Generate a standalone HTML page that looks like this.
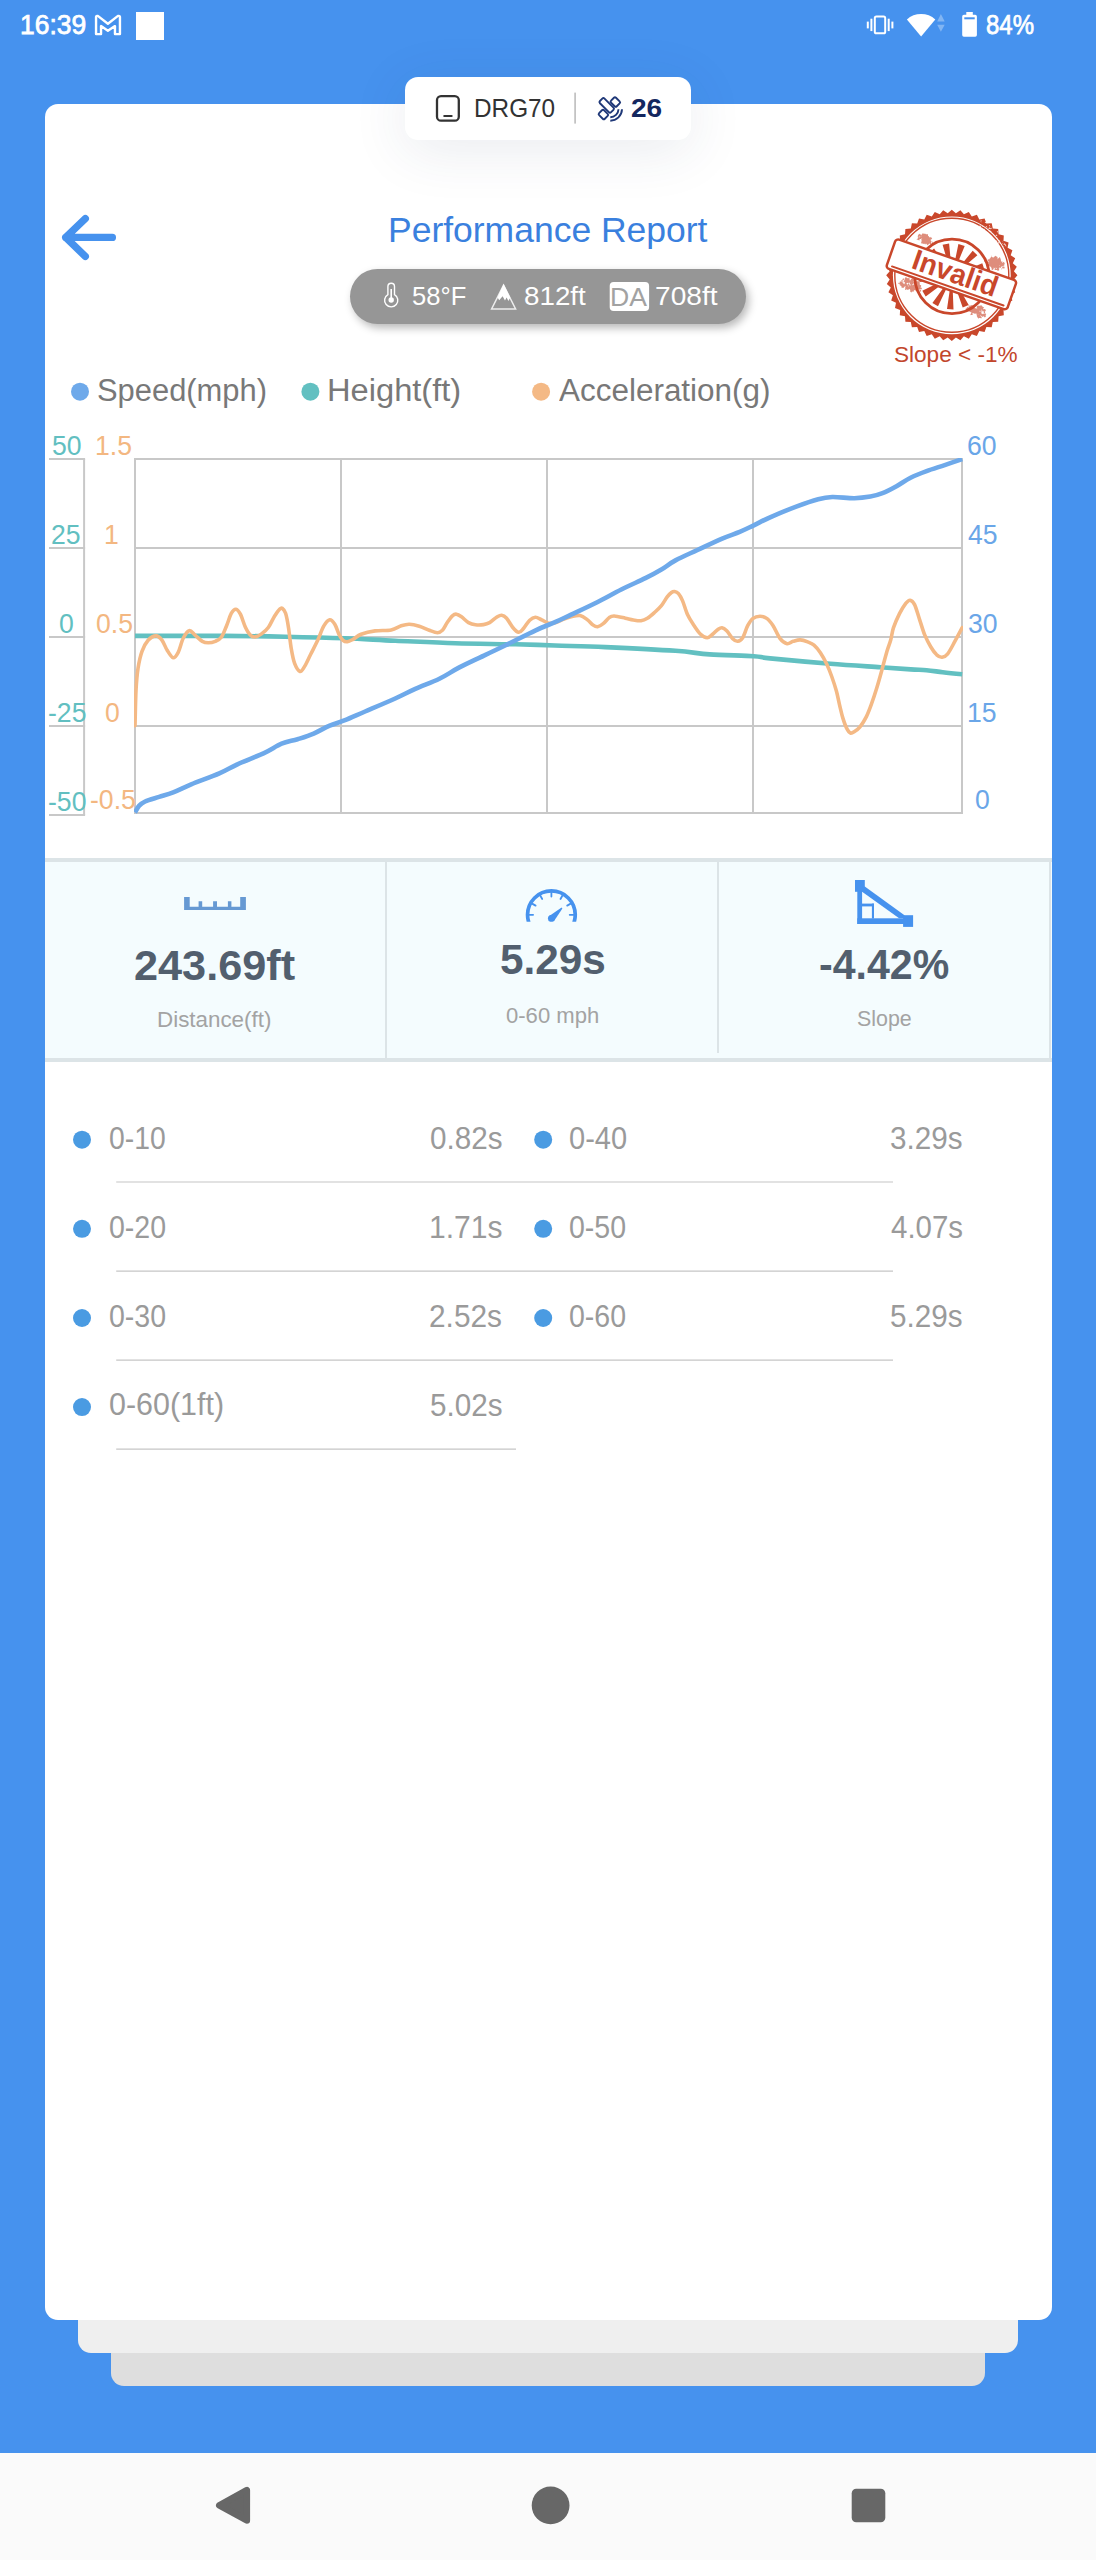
<!DOCTYPE html>
<html lang="en"><head><meta charset="utf-8"><title>Performance Report</title>
<style>
*{margin:0;padding:0;box-sizing:border-box}
html,body{width:1096px;height:2560px;overflow:hidden}
body{position:relative;background:#4692ee;font-family:"Liberation Sans",sans-serif}
.abs{position:absolute}
.t{position:absolute;white-space:nowrap;line-height:1;transform-origin:0 0;display:block}
.card{left:45px;top:104px;width:1007px;height:2216px;background:#fff;border-radius:13px}
.c2{left:78px;top:2300px;width:940px;height:53px;background:#efefef;border-radius:0 0 13px 13px}
.c3{left:111px;top:2330px;width:874px;height:56px;background:#dedede;border-radius:0 0 13px 13px}
.nav{left:0;top:2453px;width:1096px;height:107px;background:#fafafa}
.pill{left:405px;top:77px;width:286px;height:63px;background:#fff;border-radius:13px;box-shadow:0 10px 56px rgba(40,60,100,.10)}
.env{left:350px;top:269px;width:396px;height:55px;background:#969696;border-radius:28px;box-shadow:3px 4px 8px rgba(0,0,0,.28)}
.stats{left:45px;top:858px;width:1007px;height:204px;background:#f4fcfe;border-top:4px solid #dce4e7;border-bottom:4px solid #dce4e7}
.vd{background:#dce4e7;width:2px}
</style></head>
<body>
<div class="abs c3"></div><div class="abs c2"></div><div class="abs card"></div>
<div class="abs nav"></div>
<svg class="abs" style="left:0;top:2453px" width="1096" height="107" viewBox="0 2453 1096 107"><g fill="#676767"><path d="M219.3,2505.3L246.8,2490.2V2520.4Z" stroke="#676767" stroke-width="6.6" stroke-linejoin="round"/><circle cx="550.6" cy="2505.4" r="18.9"/><rect x="851.7" y="2488.7" width="33.6" height="33.6" rx="4.5"/></g></svg>
<div class="abs pill"></div>
<div class="abs env"></div>
<div class="abs stats"></div>
<div class="abs vd" style="left:385px;top:862px;height:196px"></div>
<div class="abs vd" style="left:717px;top:862px;height:191px"></div>
<div class="abs vd" style="left:1049px;top:862px;height:196px"></div>
<svg class="abs" style="left:45px;top:375px" width="1007" height="34" viewBox="45 375 1007 34"><circle cx="80.0" cy="391.7" r="9" fill="#6ea9ea"/><circle cx="310.4" cy="391.7" r="9" fill="#62c0c1"/><circle cx="541.1" cy="391.7" r="9" fill="#f4b985"/></svg>
<svg class="abs" style="left:45px;top:1120px" width="1007" height="300" viewBox="45 1120 1007 300"><g fill="#4a9be2"><circle cx="82" cy="1139.7" r="9"/><circle cx="543.2" cy="1139.7" r="9"/><circle cx="82" cy="1228.8" r="9"/><circle cx="543.2" cy="1228.8" r="9"/><circle cx="82" cy="1318" r="9"/><circle cx="543.2" cy="1318" r="9"/><circle cx="82" cy="1407.1" r="9"/></g></svg>
<svg class="abs" style="left:0;top:1170px" width="1096" height="300" viewBox="0 1170 1096 300"><g stroke="#c6c6c6" stroke-width="1.2"><path d="M116.2,1182H893"/><path d="M116.2,1271.1H893"/><path d="M116.2,1360.1H893"/><path d="M116.2,1449.1H516"/></g></svg>
<svg class="abs" style="left:0;top:420px" width="1096" height="420" viewBox="0 420 1096 420">
<g stroke="#c8c8c8" stroke-width="2" fill="none"><path d="M134,459.0H963"/><path d="M134,548.05H963"/><path d="M134,637.05H963"/><path d="M134,726.05H963"/><path d="M134,812.9H963"/><path d="M135,459.0V812.9"/><path d="M341,459.0V812.9"/><path d="M547,459.0V812.9"/><path d="M753,459.0V812.9"/><path d="M962,459.0V812.9"/><path d="M49,459.0H85.1"/><path d="M49,548.05H85.1"/><path d="M49,637.05H85.1"/><path d="M49,726.05H85.1"/><path d="M49,814.9H85.1"/><path d="M84.1,459.0V814.9"/></g>
<clipPath id="pc"><rect x="134" y="458" width="829" height="356"/></clipPath><g clip-path="url(#pc)">
<path d="M135.0,635.9C150.0,635.9 200.0,635.8 225.0,635.9C250.0,636.0 265.0,636.3 285.0,636.7C305.0,637.1 326.6,637.6 345.0,638.3C363.4,639.0 376.8,639.9 395.2,640.7C413.6,641.5 435.3,642.7 455.4,643.3C475.5,643.9 499.1,643.9 515.7,644.3C532.3,644.7 540.1,645.0 555.0,645.5C569.9,646.0 585.1,646.2 605.2,647.1C625.3,648.0 658.1,649.6 675.5,650.8C692.9,652.0 696.6,653.5 709.6,654.4C722.6,655.3 743.7,655.5 753.8,656.2C763.9,656.9 757.4,657.1 770.1,658.4C782.9,659.7 811.9,662.3 830.3,663.8C848.7,665.3 867.1,666.3 880.5,667.2C893.9,668.1 902.9,668.9 910.6,669.4C918.3,669.9 921.2,669.7 926.6,670.2C932.0,670.7 936.8,671.5 942.7,672.2C948.6,672.9 959.0,673.9 962.2,674.2" fill="none" stroke="#62c0c1" stroke-width="4.6" stroke-linecap="butt" stroke-linejoin="round"/>
<path d="M135.0,725.6C135.2,719.8 135.5,700.0 136.0,690.5C136.5,681.0 137.0,674.9 138.0,668.4C139.0,661.9 140.3,656.0 142.0,651.3C143.7,646.6 145.8,642.9 148.1,640.3C150.4,637.7 153.8,635.9 156.1,635.9C158.4,635.9 160.2,637.9 162.1,640.3C163.9,642.7 165.3,647.4 167.2,650.3C169.0,653.2 171.4,657.5 173.2,657.8C175.0,658.1 176.5,655.5 178.2,652.3C179.9,649.0 181.4,641.9 183.2,638.3C185.0,634.7 187.2,631.2 189.2,630.7C191.2,630.2 193.1,633.5 195.3,635.3C197.5,637.1 200.1,640.1 202.3,641.3C204.5,642.5 206.1,642.7 208.3,642.7C210.5,642.7 213.1,642.2 215.3,641.3C217.5,640.4 219.5,639.8 221.3,637.3C223.2,634.8 224.7,630.2 226.4,626.2C228.1,622.2 229.8,616.0 231.4,613.2C233.0,610.4 234.5,609.0 236.0,609.2C237.5,609.4 238.8,611.2 240.4,614.2C242.0,617.2 243.7,623.7 245.4,627.2C247.1,630.7 248.9,633.7 250.5,635.3C252.1,636.9 253.3,637.1 255.1,636.9C256.9,636.7 259.3,635.5 261.5,633.9C263.7,632.3 266.3,630.2 268.5,627.2C270.7,624.2 272.6,619.2 274.5,616.2C276.4,613.2 278.3,610.5 279.6,609.2C280.9,607.9 281.2,607.5 282.2,608.2C283.2,608.9 284.5,609.9 285.6,613.2C286.7,616.5 287.7,622.4 288.6,628.2C289.5,634.1 290.2,642.4 291.2,648.3C292.2,654.2 293.1,659.5 294.6,663.4C296.1,667.2 298.3,670.9 300.0,671.4C301.7,671.9 302.8,669.2 304.6,666.4C306.4,663.5 308.5,658.6 310.7,654.3C312.9,649.9 315.5,645.0 317.7,640.3C319.9,635.6 321.7,629.6 323.7,626.2C325.7,622.8 327.8,620.1 329.7,619.8C331.6,619.5 333.2,621.8 334.8,624.2C336.4,626.6 337.6,631.6 339.0,634.3C340.4,637.0 341.6,639.1 343.0,640.3C344.4,641.5 345.7,641.9 347.4,641.7C349.1,641.5 350.8,640.5 353.1,639.3C355.4,638.1 357.4,635.7 361.1,634.3C364.8,632.9 370.1,631.6 375.1,630.9C380.1,630.2 386.9,630.8 391.2,629.9C395.5,629.0 398.2,626.8 401.2,625.8C404.2,624.8 406.3,624.1 409.3,624.2C412.3,624.3 416.0,625.2 419.3,626.2C422.6,627.2 426.3,629.2 429.3,630.3C432.3,631.4 435.2,632.7 437.4,632.7C439.6,632.7 440.7,632.0 442.4,630.3C444.1,628.5 445.7,624.6 447.4,622.2C449.1,619.8 450.9,617.1 452.4,615.8C453.9,614.5 454.9,614.0 456.4,614.2C457.9,614.4 459.5,615.4 461.5,616.8C463.5,618.2 466.2,621.3 468.5,622.6C470.8,623.9 473.0,624.5 475.5,624.8C478.0,625.1 481.1,625.0 483.5,624.6C485.9,624.2 487.4,623.8 489.6,622.6C491.8,621.4 494.6,618.4 496.6,617.2C498.6,616.0 499.9,615.0 501.6,615.2C503.3,615.4 504.8,616.2 506.6,618.2C508.4,620.2 510.6,624.9 512.6,627.2C514.6,629.6 516.9,632.1 518.7,632.3C520.6,632.5 521.9,630.2 523.7,628.2C525.5,626.2 527.8,622.0 529.7,620.2C531.6,618.4 533.3,617.3 535.3,617.2C537.3,617.1 539.5,618.8 541.7,619.8C544.0,620.8 546.4,622.8 548.8,623.2C551.2,623.7 553.5,623.2 556.0,622.5C558.5,621.8 561.3,620.0 564.0,619.0C566.7,618.0 569.3,617.1 572.0,616.5C574.7,615.9 577.6,615.1 580.1,615.6C582.6,616.1 585.0,618.0 587.2,619.6C589.4,621.2 591.5,623.9 593.2,625.1C594.9,626.3 595.9,626.9 597.6,626.7C599.3,626.5 601.3,625.2 603.2,623.7C605.1,622.2 607.4,618.9 609.2,617.6C611.0,616.3 611.5,615.9 614.2,616.0C616.9,616.1 622.1,617.5 625.3,618.2C628.5,618.9 630.7,619.6 633.3,620.0C635.9,620.4 638.6,621.0 641.0,620.7C643.4,620.4 645.2,619.6 647.4,618.2C649.6,616.9 652.1,614.7 654.4,612.6C656.7,610.5 659.2,608.3 661.4,605.6C663.6,602.9 665.7,598.8 667.4,596.6C669.1,594.4 670.3,593.4 671.5,592.5C672.7,591.6 673.3,591.3 674.5,591.5C675.7,591.7 677.2,592.1 678.5,593.6C679.8,595.1 681.0,597.1 682.5,600.6C684.0,604.1 685.7,610.6 687.5,614.6C689.3,618.6 691.3,621.4 693.5,624.7C695.7,628.0 698.3,632.1 700.6,634.3C702.9,636.5 705.2,637.7 707.2,637.7C709.2,637.7 710.9,635.6 712.6,634.3C714.3,633.0 716.0,630.8 717.6,629.7C719.2,628.6 720.5,627.5 722.0,627.7C723.5,627.9 724.9,628.9 726.7,630.7C728.5,632.5 730.9,636.9 732.7,638.7C734.5,640.5 736.0,641.5 737.7,641.3C739.4,641.1 741.0,640.3 742.7,637.7C744.4,635.1 746.0,628.9 747.7,625.7C749.4,622.5 750.7,620.2 752.7,618.6C754.8,617.0 757.6,616.2 760.0,616.2C762.4,616.2 764.9,617.0 767.1,618.6C769.3,620.2 770.9,622.4 773.1,625.7C775.3,629.1 777.8,635.7 780.1,638.7C782.4,641.7 784.9,643.3 787.1,643.7C789.3,644.1 791.0,641.9 793.2,641.3C795.4,640.7 797.8,639.8 800.2,639.9C802.6,640.0 805.4,641.0 807.7,641.9C810.0,642.8 811.9,643.3 814.0,645.1C816.1,646.9 818.3,649.6 820.4,652.8C822.5,656.0 824.9,660.3 826.8,664.3C828.7,668.3 830.3,672.5 831.9,677.0C833.5,681.5 835.1,686.4 836.4,691.1C837.7,695.8 838.5,700.6 839.6,705.1C840.7,709.6 841.6,714.1 842.8,717.9C844.0,721.7 845.3,725.6 846.6,728.1C847.9,730.6 849.1,732.5 850.5,733.0C851.9,733.5 853.3,732.3 854.9,731.3C856.5,730.3 858.1,729.3 860.0,726.9C861.9,724.5 864.5,720.4 866.4,716.6C868.3,712.8 869.8,708.6 871.5,703.9C873.2,699.2 874.9,694.0 876.6,688.5C878.3,683.0 880.0,676.9 881.7,670.7C883.4,664.5 885.4,656.6 886.9,651.5C888.4,646.4 889.6,644.0 890.7,640.0C891.8,636.0 892.0,632.1 893.5,627.7C895.0,623.3 897.5,617.6 899.5,613.6C901.5,609.6 903.9,605.8 905.6,603.6C907.4,601.4 908.5,600.0 910.0,600.2C911.5,600.4 913.0,601.4 914.6,604.6C916.2,607.8 917.9,614.6 919.6,619.6C921.3,624.6 922.8,630.2 924.6,634.7C926.5,639.2 928.7,643.4 930.7,646.7C932.7,650.1 934.8,653.0 936.7,654.8C938.6,656.5 940.3,657.4 942.1,657.2C943.9,657.0 945.6,656.4 947.7,653.8C949.8,651.2 952.3,646.1 954.7,641.7C957.1,637.4 961.0,630.0 962.2,627.7" fill="none" stroke="#f4b985" stroke-width="3.6" stroke-linecap="round" stroke-linejoin="round"/>
<path d="M135.0,812.5C135.7,811.4 137.3,807.7 139.0,805.9C140.7,804.1 141.8,803.0 145.1,801.5C148.4,800.0 154.4,798.4 159.1,796.9C163.8,795.4 167.8,794.5 173.2,792.4C178.5,790.3 183.5,787.6 191.2,784.4C198.9,781.2 211.6,776.8 219.3,773.4C227.0,770.0 230.0,767.6 237.4,764.3C244.8,760.9 256.1,756.7 263.5,753.3C270.9,749.9 275.9,746.1 281.6,743.7C287.3,741.4 292.2,740.9 297.6,739.2C303.0,737.5 308.4,735.9 313.7,733.6C319.0,731.3 324.5,727.8 329.7,725.6C334.9,723.4 339.1,722.6 345.0,720.2C350.9,717.9 356.7,715.1 365.1,711.5C373.5,707.9 386.8,702.3 395.2,698.5C403.6,694.7 407.9,692.2 415.3,688.9C422.7,685.6 432.0,682.4 439.4,678.8C446.8,675.2 451.7,671.4 459.4,667.4C467.1,663.4 477.8,658.6 485.5,654.9C493.2,651.2 497.2,649.4 505.6,645.3C514.0,641.2 527.5,634.1 535.7,630.3C543.9,626.4 549.1,624.8 555.0,622.2C560.9,619.6 564.1,617.9 571.1,614.6C578.1,611.3 588.8,606.4 597.2,602.2C605.6,598.0 613.3,593.5 621.3,589.5C629.3,585.5 638.7,581.4 645.4,578.1C652.1,574.8 656.4,572.5 661.4,569.5C666.4,566.5 669.5,563.6 675.5,560.4C681.5,557.1 689.8,553.6 697.5,550.0C705.2,546.4 714.6,541.8 721.6,538.8C728.6,535.8 734.3,534.1 739.7,531.9C745.1,529.6 748.7,527.7 753.8,525.3C758.9,522.9 763.0,520.4 770.1,517.3C777.2,514.2 788.2,509.6 796.2,506.6C804.2,503.6 812.2,500.8 818.2,499.2C824.2,497.6 826.3,497.2 832.3,497.0C838.3,496.8 848.0,498.3 854.4,498.2C860.8,498.1 865.7,497.4 870.4,496.6C875.1,495.8 878.1,494.9 882.5,493.2C886.9,491.5 891.8,488.8 896.5,486.2C901.2,483.6 905.6,480.2 910.6,477.7C915.6,475.2 920.9,473.2 926.6,471.1C932.3,469.0 938.8,467.1 944.7,465.1C950.6,463.1 959.3,460.1 962.2,459.1" fill="none" stroke="#6ea9ea" stroke-width="4.6" stroke-linecap="butt" stroke-linejoin="round"/>
</g></svg>
<svg class="abs" style="left:0;top:0" width="1096" height="50" viewBox="0 0 1096 50"><path d="M96.05,34.1V16.9Q96.2,15.6 97.8,15.9L107.9,23.8L118,15.9Q119.8,15.6 119.95,16.9V34.1H114.97V26.1L107.9,30.7L101.03,26.1V34.1Z" fill="none" stroke="#fff" stroke-width="2.4" stroke-linejoin="round"/><rect x="136" y="12" width="28" height="28" fill="#fff"/><rect x="874.8" y="16.6" width="10.4" height="16.7" rx="1.6" fill="none" stroke="#fff" stroke-width="2"/><g fill="#fff"><rect x="870.4" y="18.7" width="2" height="12.4"/><rect x="866.8" y="21.6" width="2" height="6.8"/><rect x="887.7" y="18.7" width="2" height="12.4"/><rect x="891.4" y="21.6" width="2" height="6.8"/></g><path d="M921.1,36.4L906.9,19.6A20.5,20.5 0 0 1 935.3,19.6Z" fill="#fff"/><g fill="#fff" opacity=".32"><path d="M940.9,13.9L944.7,21.6H937.2Z"/><path d="M940.9,31.8L944.7,24.7H937.2Z"/></g><path d="M966.3,11.9H972.8V14.8H975.2Q976.9,14.8 976.9,16.5V35.1Q976.9,36.8 975.2,36.8H963.9Q962.2,36.8 962.2,35.1V16.5Q962.2,14.8 963.9,14.8H966.3Z" fill="#fff"/><rect x="964.3" y="17.3" width="10.4" height="2" fill="#4692ee"/></svg>
<svg class="abs" style="left:405px;top:77px" width="286" height="63" viewBox="405 77 286 63"><rect x="437" y="96.1" width="21.8" height="24.6" rx="4" fill="none" stroke="#333" stroke-width="2.3"/><path d="M444.3,116H451.6" stroke="#333" stroke-width="2.2" stroke-linecap="round"/><rect x="574.3" y="92.6" width="1.6" height="31" fill="#bdbdbd"/><g fill="none" stroke="#1f3878" stroke-width="1.9" stroke-linejoin="round"><rect x="-7.9" y="-3.25" width="15.8" height="6.5" rx="1.6" transform="translate(606.7,105.4) rotate(45)"/><rect x="-4.05" y="-3.5" width="8.1" height="7" rx="1.5" transform="translate(615.35,102.0) rotate(45)"/><rect x="-4.05" y="-3.5" width="8.1" height="7" rx="1.5" transform="translate(603.4,114.5) rotate(45)"/></g><g fill="none" stroke="#1f3878" stroke-width="1.9"><path d="M618.50,109.30A8.2,8.2 0 0 1 610.30,117.20"/><path d="M622.00,109.30A11.7,11.7 0 0 1 610.30,120.70"/></g></svg>
<svg class="abs" style="left:45px;top:190px" width="1007" height="150" viewBox="45 190 1007 150"><path d="M112.4,237.4H65.7M85.3,218.6L65.7,237.4L85.3,256.4" fill="none" stroke="#4692ee" stroke-width="7.3" stroke-linecap="round" stroke-linejoin="round"/><path d="M387.9,294.6V286.6A3.3,3.3 0 0 1 394.5,286.6V294.6A6.6,6.6 0 1 1 387.9,294.6Z" fill="none" stroke="#fff" stroke-width="1.4"/><path d="M391.2,289V299" stroke="#fff" stroke-width="1.6"/><circle cx="391.2" cy="300" r="2.7" fill="#fff"/><path d="M503.6,285.2L491.6,309H515.6Z" fill="none" stroke="#ededed" stroke-width="1.5" stroke-linejoin="miter"/><path d="M503.6,284L510.3,297.6L508.4,301L506.6,297.5L505,300.5L502.6,296.2L499.2,300.2L497.6,297.6Z" fill="#fff"/><rect x="609.7" y="282" width="39.4" height="28.9" rx="4" fill="#fff"/></svg>
<svg class="abs" style="left:870px;top:195px" width="170" height="160" viewBox="870 195 170 160"><polygon points="1017.4,275.3 1013.9,279.4 1016.8,283.9 1012.8,287.4 1015.2,292.3 1010.7,295.3 1012.4,300.4 1007.6,302.8 1008.6,308.1 1003.5,309.9 1003.8,315.2 998.6,316.3 998.2,321.7 992.8,322.1 991.7,327.3 986.4,327.0 984.6,332.1 979.3,331.1 976.9,335.9 971.8,334.2 968.8,338.7 963.9,336.3 960.4,340.3 955.9,337.4 951.8,340.9 947.7,337.4 943.2,340.3 939.7,336.3 934.8,338.7 931.8,334.2 926.7,335.9 924.3,331.1 919.0,332.1 917.2,327.0 911.9,327.3 910.8,322.1 905.4,321.7 905.0,316.3 899.8,315.2 900.1,309.9 895.0,308.1 896.0,302.8 891.2,300.4 892.9,295.3 888.4,292.3 890.8,287.4 886.8,283.9 889.7,279.4 886.2,275.3 889.7,271.2 886.8,266.7 890.8,263.2 888.4,258.3 892.9,255.3 891.2,250.2 896.0,247.8 895.0,242.5 900.1,240.7 899.8,235.4 905.0,234.3 905.4,228.9 910.8,228.5 911.9,223.3 917.2,223.6 919.0,218.5 924.3,219.5 926.7,214.7 931.8,216.4 934.8,211.9 939.7,214.3 943.2,210.3 947.7,213.2 951.8,209.7 955.9,213.2 960.4,210.3 963.9,214.3 968.8,211.9 971.8,216.4 976.9,214.7 979.3,219.5 984.6,218.5 986.4,223.6 991.7,223.3 992.8,228.5 998.2,228.9 998.6,234.3 1003.8,235.4 1003.5,240.7 1008.6,242.5 1007.6,247.8 1012.4,250.2 1010.7,255.3 1015.2,258.3 1012.8,263.2 1016.8,266.7 1013.9,271.2" fill="#c9472b"/><circle cx="951.8" cy="275.3" r="58.9" fill="#fff"/><circle cx="951.8" cy="275.3" r="57" fill="none" stroke="#c9472b" stroke-width="1.4"/><circle cx="952" cy="276.4" r="37.2" fill="none" stroke="#c9472b" stroke-width="2.8"/><path d="M948.2,264.0L942.6,244.8L949.1,243.5L951.0,263.4ZM954.4,263.6L958.4,244.0L964.7,245.9L957.1,264.5ZM960.1,266.2L972.7,250.7L977.4,255.3L962.1,268.2ZM963.9,271.1L982.3,263.3L984.3,269.5L964.7,273.8ZM965.0,277.2L984.9,278.8L983.8,285.3L964.5,280.0ZM963.1,283.2L980.0,293.9L976.0,299.1L961.4,285.4ZM958.7,287.5L968.7,304.9L962.7,307.6L956.1,288.7ZM952.7,289.4L953.5,309.4L947.0,309.0L949.9,289.2ZM946.6,288.2L938.0,306.3L932.4,302.9L944.2,286.8ZM941.7,284.4L925.7,296.4L922.3,290.8L940.2,281.9ZM939.2,278.7L919.5,281.9L919.0,275.3L939.0,275.8ZM939.6,272.5L920.6,266.2L923.3,260.1L940.8,269.9ZM942.8,267.2L929.0,252.8L934.1,248.6L945.1,265.4Z" fill="#c9472b"/><path d="M923.2,233.6L923.4,236.8L921.4,236.1ZM921.5,238.9L919.5,239.0L918.9,238.1L919.7,236.9L921.2,237.7ZM920.1,236.4L917.5,236.8L919.4,233.6ZM922.3,238.2L927.5,236.9L928.1,240.7L922.7,243.0ZM927.0,239.4L931.7,237.3L929.7,241.0ZM924.4,239.3L928.2,240.8L925.2,244.6L923.4,242.4ZM927.6,245.2L924.9,242.2L927.9,239.3L931.8,241.2ZM920.4,235.6L918.5,236.0L918.8,234.4L919.8,234.2ZM920.5,234.8L919.7,235.1L919.6,233.9ZM922.2,233.5L925.0,233.8L924.7,236.1L923.1,237.0L921.3,235.7ZM926.3,235.4L924.6,236.8L924.7,234.0ZM918.7,235.7L920.0,234.2L920.5,235.0L919.7,236.5ZM925.8,240.2L923.7,242.3L921.8,238.6ZM931.3,242.5L931.2,243.9L929.6,243.5L930.2,241.8ZM921.0,236.9L919.2,234.5L921.2,234.6ZM929.9,239.4L928.7,240.7L925.8,240.7L924.1,236.3L928.7,236.0ZM927.7,243.4L926.5,243.9L925.6,242.6L926.1,241.4L927.7,242.3ZM930.9,237.5L929.8,237.8L930.1,236.7ZM926.2,234.3L928.0,234.3L928.0,236.3L927.4,236.8L926.0,236.4ZM920.3,238.4L920.1,236.4L921.6,236.0L922.5,236.9L922.2,237.9ZM932.2,238.9L930.5,239.4L929.6,237.9L930.5,237.6L931.6,237.7ZM924.1,235.6L925.8,233.6L926.7,236.1ZM924.6,242.6L924.1,244.0L922.3,243.5L922.9,241.4ZM921.6,235.7L920.7,236.8L919.6,235.3ZM917.8,239.1L917.9,238.1L919.3,238.1L919.9,239.0L919.3,239.6ZM928.1,239.6L927.1,241.8L926.3,239.5ZM921.0,243.2L921.6,240.9L924.1,240.7L924.2,243.7ZM919.5,235.7L917.8,235.8L918.9,234.0ZM919.5,237.0L917.8,238.4L918.0,236.6ZM924.7,239.9L922.5,242.5L922.8,239.1ZM921.2,239.7L922.6,237.4L926.0,239.6L925.7,242.7L922.7,242.7ZM923.4,234.2L924.3,234.4L923.5,235.4ZM931.8,243.4L932.9,241.3L933.2,244.0ZM923.3,237.4L921.7,238.3L920.9,236.8L922.4,235.9ZM921.3,235.5L926.4,236.0L923.0,239.3ZM919.4,237.8L919.5,240.5L916.4,239.2ZM930.9,238.3L930.4,244.2L927.3,241.8ZM918.3,235.6L919.6,235.2L920.3,236.0L918.7,236.8ZM923.5,240.7L924.1,239.6L926.0,239.5L926.7,241.5L925.5,242.5ZM927.7,239.3L926.7,237.5L927.6,236.0L930.4,238.0ZM996.1,261.6L998.5,259.8L1000.6,260.6L999.4,263.0ZM992.4,270.2L991.5,269.3L992.1,267.4L993.9,268.3ZM991.4,267.3L993.6,265.4L993.7,269.4ZM999.7,261.3L999.7,264.9L997.3,262.7ZM1002.7,263.4L1003.0,262.0L1004.2,262.8L1004.3,263.7ZM996.5,260.0L999.9,256.9L1001.1,260.4L997.5,262.4ZM993.7,266.5L993.9,265.0L995.4,265.1L995.7,265.8L995.0,267.0ZM998.0,268.1L997.4,265.7L1000.7,265.5ZM993.4,260.5L993.7,257.3L997.8,258.0L996.1,261.8ZM990.9,266.5L990.5,264.3L992.0,263.9L991.9,266.1ZM989.4,259.4L991.0,257.1L992.7,257.5L991.4,260.4ZM997.5,256.9L997.6,257.7L996.0,259.8L993.9,257.5L995.1,255.7ZM993.1,264.8L992.4,263.1L994.4,262.2ZM1000.6,259.2L1000.3,260.0L999.5,260.4L999.4,259.5L1000.2,259.0ZM994.4,262.9L996.3,263.3L995.2,264.8L993.1,264.0ZM995.0,260.5L991.0,263.6L989.4,258.4ZM989.7,261.6L987.3,261.3L988.0,259.6L989.9,259.1ZM993.2,263.9L996.9,258.6L998.8,264.4ZM997.1,263.5L997.1,261.2L1000.4,262.5L998.6,264.5ZM1002.8,263.1L998.9,263.2L999.7,259.6ZM986.5,258.6L984.9,259.6L984.0,258.0L985.7,257.6ZM1003.1,266.9L1003.8,267.1L1003.8,268.3L1003.2,268.5L1002.2,267.9ZM992.9,263.5L996.1,266.2L991.9,269.1L990.5,265.9ZM1004.3,265.6L1001.9,266.5L999.9,266.1L1000.3,262.6L1004.4,263.7ZM992.0,256.4L991.8,256.8L991.1,256.2L991.6,255.6ZM997.1,267.8L998.7,267.2L999.4,268.4L997.6,269.2ZM989.1,259.8L991.1,258.2L994.3,257.3L994.3,262.3L989.9,264.5ZM994.1,268.3L994.4,266.4L995.9,268.2ZM995.4,267.4L993.9,264.7L997.5,263.8L997.0,266.3ZM991.7,262.7L992.6,264.2L990.0,263.9ZM997.4,264.8L998.4,261.6L1000.1,261.6L999.3,265.1ZM996.1,258.4L995.6,264.5L990.6,262.7L989.6,259.1ZM996.1,268.8L996.0,269.4L995.4,269.5L994.7,268.9L995.6,268.1ZM988.7,266.6L988.2,265.7L989.7,264.9L990.0,266.3ZM997.4,266.5L995.0,265.8L995.5,264.2L998.5,264.7ZM984.3,259.6L986.8,260.6L984.1,261.7ZM990.7,259.0L991.4,257.0L993.5,257.6L991.9,260.2ZM987.5,261.6L987.8,259.3L989.1,260.3ZM1004.9,264.0L1002.7,263.9L1003.9,261.8ZM997.2,269.6L996.6,268.0L997.8,267.2L998.6,268.7ZM993.1,266.4L988.8,265.3L988.8,261.0L991.8,261.0ZM997.1,269.7L995.8,270.0L995.7,268.5L996.9,268.8ZM989.5,265.3L991.6,264.9L991.9,266.6L990.3,266.8ZM995.1,264.0L997.0,266.6L994.4,266.4ZM994.8,264.2L993.3,265.3L993.2,263.0ZM990.1,263.2L987.4,263.6L986.8,261.0ZM987.4,263.6L990.8,265.2L986.8,267.2ZM988.2,266.2L987.7,266.6L987.2,266.5L987.3,266.0L988.1,265.7ZM997.4,264.8L994.8,261.8L997.6,261.2L1000.8,262.1L1000.2,264.9ZM993.4,258.4L996.3,259.6L994.6,260.2ZM999.7,265.0L996.8,268.0L995.0,267.6L994.1,263.9L996.2,264.1ZM994.5,263.2L993.3,265.0L991.2,264.8L989.2,264.2L990.8,261.0ZM1001.7,262.6L1003.2,264.6L1000.3,265.2L999.3,264.1L1000.5,261.4ZM997.2,265.9L998.6,267.0L997.7,268.5L996.6,267.9L996.5,267.1ZM1001.3,268.6L1002.0,268.5L1002.1,268.9L1001.7,269.4L1001.2,269.0ZM996.7,269.4L997.2,268.9L999.1,268.9L999.1,270.5L997.6,270.7ZM1002.1,261.5L1001.9,260.9L1002.9,261.0ZM1002.9,268.5L1001.9,268.1L1002.8,266.4L1004.2,266.6L1004.8,268.3ZM1001.5,266.3L1000.5,268.1L998.4,267.3L998.8,265.1ZM995.4,268.6L995.8,269.1L995.9,269.9L994.6,269.9L994.6,269.3ZM916.3,286.6L917.9,286.6L917.5,289.0L915.4,288.5ZM915.0,290.0L915.1,286.3L916.9,288.0ZM905.6,290.0L904.8,288.9L905.7,288.1L906.4,288.0L906.5,289.7ZM902.7,285.2L904.6,286.2L903.4,288.0L901.4,287.5L901.4,285.9ZM905.6,285.9L903.8,284.9L905.3,283.5L906.7,284.7ZM913.1,288.2L914.1,291.0L912.6,291.8L910.5,289.2ZM912.9,281.0L911.2,280.5L911.0,279.0L913.2,278.0L914.2,279.6ZM921.2,291.0L920.5,291.8L919.1,291.2L919.6,290.2L920.7,289.8ZM920.2,289.1L920.6,287.6L922.1,288.1L921.3,289.6ZM899.2,284.2L899.9,281.3L903.5,282.7L901.8,285.2ZM905.5,280.4L905.4,282.6L903.2,281.8ZM903.9,278.2L904.0,280.3L901.9,279.2ZM915.8,281.8L915.5,283.8L914.1,282.8ZM911.6,283.7L915.0,288.4L910.3,290.3ZM919.5,288.1L915.5,288.7L912.9,285.4L916.6,283.3L919.0,283.6ZM916.4,281.8L917.6,281.4L918.5,282.6L918.2,283.6L917.2,283.7ZM912.1,291.0L913.5,290.1L913.5,291.9ZM918.9,285.2L919.8,284.7L921.0,285.2L920.9,287.1L918.9,287.7ZM920.4,284.9L921.4,285.9L919.9,287.0L919.1,286.0ZM920.8,288.6L919.2,289.1L919.0,288.0L920.3,287.7ZM903.1,283.8L900.7,284.9L898.9,283.5L900.5,282.4L902.3,283.1ZM902.8,286.9L905.5,281.8L907.8,285.9ZM920.2,289.5L915.7,290.0L914.7,287.5L918.7,286.3ZM909.5,289.1L907.7,290.0L907.0,288.5L907.5,287.1ZM902.1,285.9L902.4,283.9L904.5,285.1ZM908.5,284.6L913.4,288.2L908.4,289.0ZM915.3,281.2L919.0,281.3L919.9,283.6L916.5,284.9ZM902.2,285.0L901.4,285.9L899.7,285.2L900.9,284.2ZM912.1,289.6L912.3,291.0L911.5,292.4L910.2,291.7L910.6,290.1ZM906.3,281.0L905.6,277.1L908.6,278.8ZM912.6,289.5L910.6,290.5L908.9,287.7L909.8,286.0L911.8,287.0ZM901.5,284.8L903.3,283.3L905.3,285.9L902.5,287.1ZM912.2,282.3L910.6,280.9L912.5,280.2ZM909.7,280.1L907.9,278.9L909.2,276.7ZM920.6,286.7L920.5,289.1L918.3,287.9L919.2,285.9ZM908.5,283.9L906.7,287.3L904.7,285.7ZM914.0,281.2L913.1,282.6L908.9,281.9L912.3,277.7ZM916.9,289.0L912.1,290.2L915.6,285.0ZM915.6,286.6L913.5,286.8L913.5,284.3L915.7,284.5ZM902.5,280.1L903.0,281.4L901.3,281.8L901.1,280.6ZM898.0,283.8L898.7,282.6L899.4,283.8ZM919.7,283.3L919.9,284.9L918.3,284.6L918.5,283.6ZM906.7,279.3L906.1,280.6L904.3,279.5L905.4,277.2ZM908.0,279.5L907.4,279.0L907.5,278.2L908.5,278.5L908.8,279.2ZM914.2,288.4L916.0,289.3L915.3,290.9ZM906.3,287.4L906.6,285.9L908.3,285.5L908.0,287.1ZM901.1,284.5L902.7,285.9L900.8,286.0ZM909.3,277.8L910.0,281.4L908.4,283.3L906.2,280.0ZM919.7,283.3L918.5,282.6L919.7,282.3ZM916.1,282.1L917.0,281.9L917.3,282.5L916.8,283.4L915.7,282.9ZM920.5,289.3L918.5,288.8L920.5,287.5ZM908.6,287.0L907.8,289.9L905.0,287.8L906.8,285.5ZM903.7,280.4L906.3,279.5L908.7,282.3L906.3,283.5ZM907.4,285.0L908.8,283.1L909.9,285.4ZM910.5,289.5L911.4,289.0L913.5,289.7L912.7,291.3L911.1,291.3ZM912.2,291.5L910.5,291.6L910.0,289.6L911.5,289.9ZM914.2,288.3L916.0,287.9L916.5,290.2L914.4,290.3ZM905.9,279.1L907.2,278.9L908.1,279.9L907.7,280.7L906.0,280.6ZM913.3,286.8L910.9,287.7L908.9,287.4L910.8,284.7L912.4,284.6ZM916.9,290.4L912.7,289.4L911.0,287.1L913.8,284.5L916.0,284.9ZM913.7,281.6L912.6,281.2L912.0,279.6L913.1,279.2L914.6,279.8ZM912.9,286.1L913.3,287.1L912.6,288.3L911.4,287.3L911.9,286.0ZM919.4,291.6L917.6,292.6L917.1,290.2ZM909.2,282.3L912.2,280.2L914.5,283.0L910.8,285.2ZM978.3,305.7L979.3,305.7L979.6,307.8L977.3,307.1ZM978.3,316.1L978.6,314.8L980.2,314.2L980.5,316.1ZM984.7,311.5L985.2,313.0L984.2,313.4L983.6,312.3ZM979.8,315.3L979.2,313.9L981.3,314.6ZM972.3,307.9L972.0,309.7L969.3,310.0L969.0,307.5ZM985.4,313.2L986.3,314.5L984.9,314.9L984.4,313.9ZM980.8,309.6L978.2,311.3L976.9,310.3L978.6,308.1ZM979.0,309.0L978.4,307.5L979.6,307.1L980.2,308.3ZM972.4,314.3L970.2,315.3L971.2,312.7ZM973.2,314.2L971.8,315.1L970.8,314.6L971.2,313.5L972.6,313.4ZM968.1,310.5L969.1,310.0L969.7,311.0L968.8,311.8ZM976.9,313.2L978.2,310.7L981.2,312.4L978.6,314.6ZM969.8,309.2L972.7,310.9L970.7,312.1ZM978.9,316.3L978.7,312.7L982.1,314.5ZM968.8,305.2L968.9,306.6L967.8,305.9ZM969.3,309.4L968.9,306.4L971.2,305.3L972.3,306.9L972.9,309.0ZM979.3,314.3L981.3,314.3L980.1,316.1ZM984.7,314.0L985.8,314.7L985.6,315.6L984.3,314.7ZM981.4,306.7L979.8,307.4L980.1,305.7ZM969.3,310.2L970.4,307.3L972.5,308.9L971.2,310.8ZM977.9,314.0L980.2,316.6L978.3,318.7L976.6,315.7ZM974.9,310.4L972.6,310.3L972.3,308.2L975.0,307.5ZM979.9,307.7L982.1,306.2L983.5,307.3L982.6,309.7L980.2,309.4ZM970.5,306.5L969.2,306.8L969.8,305.1ZM977.8,311.6L974.7,312.8L972.5,311.4L974.5,310.1L976.5,310.0ZM969.5,308.3L971.0,309.4L970.0,310.1ZM983.0,310.5L983.5,310.0L984.9,310.4L984.9,311.7L983.7,311.8ZM983.4,310.0L985.0,310.1L984.0,311.3ZM976.8,306.5L978.1,305.6L979.7,307.3L977.6,308.5L976.8,307.9ZM965.6,309.9L965.9,308.2L967.2,307.9L968.3,309.5L966.6,310.1ZM970.4,308.0L973.6,306.9L975.0,310.1L972.3,311.2ZM979.8,305.6L982.0,305.5L982.0,307.8L980.3,308.5L979.1,306.8ZM970.5,312.3L968.2,310.6L969.9,309.4ZM969.8,306.3L973.9,304.8L973.2,308.3ZM975.7,309.2L978.0,310.2L977.7,313.1L976.1,313.4L973.8,311.6ZM985.8,316.7L984.8,317.6L983.0,315.4L983.8,313.9L985.6,314.4ZM979.9,309.4L978.5,309.1L977.7,308.5L979.2,307.0L981.4,308.1ZM973.9,306.2L973.3,307.4L971.4,308.0L970.4,306.4L972.8,304.9ZM968.1,308.7L968.8,307.2L971.5,305.1L973.1,309.8L970.1,311.0ZM982.1,311.7L982.3,308.2L983.8,309.8ZM983.6,315.1L982.9,317.0L980.8,315.5L981.9,313.9ZM968.4,308.9L969.6,310.1L969.0,310.9L967.8,310.2ZM982.6,313.7L984.5,313.7L985.1,315.6L982.5,316.8L982.0,315.8ZM978.7,316.9L980.9,316.0L981.5,317.1L981.8,318.3L979.6,318.1ZM983.6,311.8L982.5,309.4L985.0,309.0L985.9,310.3L985.0,311.8ZM977.7,309.3L976.4,312.3L973.0,311.2L975.6,308.1ZM977.5,310.5L978.2,308.2L980.5,307.4L980.4,310.1ZM969.9,311.8L970.8,310.8L971.9,311.2L971.7,312.5ZM976.1,313.4L977.6,313.2L978.4,314.1L976.8,315.0ZM980.6,309.1L982.1,311.2L980.4,311.9L980.0,309.9ZM971.3,310.3L972.8,310.2L974.2,312.4L971.4,313.5ZM975.5,313.7L973.6,313.6L972.6,309.4L973.8,308.1L977.6,310.4ZM981.4,312.3L981.8,314.7L979.1,314.3L979.1,312.1L980.6,311.7ZM967.5,309.5L966.7,306.7L969.3,307.7ZM980.8,309.1L978.5,312.9L975.1,309.9L978.1,307.4ZM982.4,307.0L983.9,306.9L983.5,308.6L982.1,307.8Z" fill="#c9472b" opacity=".62"/><path d="M980.3,222.0L981.0,221.3L981.7,222.3ZM988.2,230.9L989.1,230.1L989.9,231.4ZM988.7,226.0L989.6,225.1L990.5,226.5ZM1004.8,245.9L1005.7,245.0L1006.6,246.3ZM1003.5,244.4L1004.7,243.2L1006.0,245.1ZM982.4,226.7L982.9,226.1L983.5,227.0ZM980.4,220.6L981.1,219.9L981.8,220.9ZM988.2,228.5L989.5,227.3L990.8,229.2ZM982.9,229.6L984.0,228.5L985.2,230.2ZM1002.4,242.0L1002.9,241.5L1003.5,242.3ZM998.7,241.0L999.6,240.2L1000.4,241.4ZM984.6,222.7L985.6,221.7L986.7,223.2ZM997.2,243.1L998.4,241.9L999.6,243.7ZM982.0,226.6L982.9,225.7L983.8,227.0ZM990.2,228.4L991.1,227.6L991.9,228.9ZM989.6,231.4L990.6,230.4L991.7,231.9ZM996.2,238.2L997.0,237.4L997.8,238.6ZM1002.2,243.9L1002.8,243.3L1003.5,244.3ZM993.4,239.1L994.0,238.4L994.6,239.4ZM995.4,235.5L996.4,234.4L997.5,236.0ZM995.1,241.5L996.3,240.3L997.5,242.1ZM978.9,226.6L980.1,225.3L981.4,227.2ZM1003.3,246.5L1003.8,246.0L1004.3,246.7ZM985.5,226.9L986.5,225.9L987.5,227.4ZM996.6,232.0L997.5,231.1L998.4,232.5ZM1003.5,240.7L1004.1,240.2L1004.7,241.0Z" fill="#fff" opacity=".9"/><g transform="translate(951.4,274.4) rotate(19.3)"><rect x="-64" y="-15.5" width="128" height="31" rx="3.2" fill="#fff" stroke="#c9472b" stroke-width="2.5"/><path d="M-58.7,12.1H59.5" stroke="#c9472b" stroke-width="2" stroke-linecap="round"/><text x="3.2" y="7.4" text-anchor="middle" font-family="Liberation Sans, sans-serif" font-weight="bold" font-size="29" fill="#c9472b" textLength="88.5" lengthAdjust="spacingAndGlyphs">Invalid</text></g></svg>
<svg class="abs" style="left:45px;top:870px" width="1007" height="70" viewBox="45 870 1007 70"><path d="M184.1,897.1H189.7V906.7H198.6V901.2H202.2V906.7H213.1V901.2H217V906.7H227.9V901.2H231.4V906.7H240.2V897.1H245.9V910H184.1Z" fill="#6699d3"/><clipPath id="gc"><rect x="520" y="880" width="64" height="41.8"/></clipPath><g clip-path="url(#gc)"><circle cx="551.4" cy="914.8" r="23.85" fill="none" stroke="#4692ee" stroke-width="3.7"/><path d="M529.1,914.8L533.1,914.8" stroke="#4692ee" stroke-width="1.8" stroke-linecap="round"/><path d="M532.1,903.6L535.6,905.6" stroke="#4692ee" stroke-width="1.8" stroke-linecap="round"/><path d="M540.2,895.5L542.2,899.0" stroke="#4692ee" stroke-width="1.8" stroke-linecap="round"/><path d="M551.4,892.5L551.4,896.5" stroke="#4692ee" stroke-width="1.8" stroke-linecap="round"/><path d="M562.5,895.5L560.5,899.0" stroke="#4692ee" stroke-width="1.8" stroke-linecap="round"/><path d="M570.7,903.6L567.2,905.6" stroke="#4692ee" stroke-width="1.8" stroke-linecap="round"/><path d="M573.7,914.8L569.7,914.8" stroke="#4692ee" stroke-width="1.8" stroke-linecap="round"/><circle cx="551.4" cy="918.6" r="3.5" fill="#4692ee"/><path d="M548.9,916.2L561.6,907.6L562.4,908.5L554.4,920.6Z" fill="#4692ee"/></g><g fill="#4692ee"><rect x="855" y="880" width="9.8" height="11.8"/><rect x="903.1" y="915.2" width="10" height="11.7"/><rect x="857.3" y="888" width="4.8" height="36"/><rect x="857.3" y="918.3" width="50" height="5.7"/><path d="M864.8,886.5L904.5,915.2V918.3H899.1L862.1,891.8V886.5Z"/><rect x="862" y="903.6" width="12" height="2.8"/><rect x="871.9" y="903.6" width="2.1" height="15"/></g></svg>
<span class="t" style="left:20.35px;top:12.41px;font-size:26.8px;font-weight:normal;color:#fff;transform:scaleX(0.9859);-webkit-text-stroke:.75px #fff;">16:39</span>
<span class="t" style="left:985.55px;top:12.41px;font-size:26.8px;font-weight:normal;color:#fff;transform:scaleX(0.8942);-webkit-text-stroke:.75px #fff;">84%</span>
<span class="t" style="left:474.05px;top:95.20px;font-size:26.7px;font-weight:normal;color:#323232;transform:scaleX(0.9116);">DRG70</span>
<span class="t" style="left:631.32px;top:95.44px;font-size:26.3px;font-weight:bold;color:#14275f;transform:scaleX(1.0656);">26</span>
<span class="t" style="left:388.43px;top:212.98px;font-size:35.4px;font-weight:normal;color:#3a80de;transform:scaleX(1.0026);">Performance Report</span>
<span class="t" style="left:411.80px;top:282.67px;font-size:26.5px;font-weight:normal;color:#fff;transform:scaleX(0.9640);">58°F</span>
<span class="t" style="left:523.83px;top:282.67px;font-size:26.5px;font-weight:normal;color:#fff;transform:scaleX(1.0481);">812ft</span>
<span class="t" style="left:609.82px;top:283.97px;font-size:26.5px;font-weight:normal;color:#a2a2a2;transform:scaleX(1.0037);">DA</span>
<span class="t" style="left:655.08px;top:282.67px;font-size:26.5px;font-weight:normal;color:#fff;transform:scaleX(1.0608);">708ft</span>
<span class="t" style="left:894.29px;top:343.20px;font-size:22.8px;font-weight:normal;color:#c2462c;transform:scaleX(0.9899);">Slope &lt; -1%</span>
<span class="t" style="left:96.93px;top:374.56px;font-size:31px;font-weight:normal;color:#787878;transform:scaleX(0.9963);">Speed(mph)</span>
<span class="t" style="left:327.25px;top:374.56px;font-size:31px;font-weight:normal;color:#787878;transform:scaleX(1.0530);">Height(ft)</span>
<span class="t" style="left:558.70px;top:374.56px;font-size:31px;font-weight:normal;color:#787878;transform:scaleX(1.0146);">Acceleration(g)</span>
<span class="t" style="left:52.01px;top:431.79px;font-size:27.3px;font-weight:normal;color:#62bfc1;transform:scaleX(0.9750);">50</span>
<span class="t" style="left:51.11px;top:520.84px;font-size:27.3px;font-weight:normal;color:#62bfc1;transform:scaleX(0.9750);">25</span>
<span class="t" style="left:59.01px;top:609.84px;font-size:27.3px;font-weight:normal;color:#62bfc1;transform:scaleX(0.9750);">0</span>
<span class="t" style="left:47.99px;top:698.84px;font-size:27.3px;font-weight:normal;color:#62bfc1;transform:scaleX(0.9750);">-25</span>
<span class="t" style="left:47.78px;top:787.69px;font-size:27.3px;font-weight:normal;color:#62bfc1;transform:scaleX(0.9750);">-50</span>
<span class="t" style="left:95.11px;top:431.79px;font-size:27.3px;font-weight:normal;color:#f3b781;transform:scaleX(0.9750);">1.5</span>
<span class="t" style="left:103.51px;top:520.84px;font-size:27.3px;font-weight:normal;color:#f3b781;transform:scaleX(0.9750);">1</span>
<span class="t" style="left:95.52px;top:609.84px;font-size:27.3px;font-weight:normal;color:#f3b781;transform:scaleX(0.9750);">0.5</span>
<span class="t" style="left:104.71px;top:698.84px;font-size:27.3px;font-weight:normal;color:#f3b781;transform:scaleX(0.9750);">0</span>
<span class="t" style="left:90.49px;top:785.69px;font-size:27.3px;font-weight:normal;color:#f3b781;transform:scaleX(0.9750);">-0.5</span>
<span class="t" style="left:967.40px;top:431.79px;font-size:27.3px;font-weight:normal;color:#6aa6e8;transform:scaleX(0.9750);">60</span>
<span class="t" style="left:967.93px;top:520.84px;font-size:27.3px;font-weight:normal;color:#6aa6e8;transform:scaleX(0.9750);">45</span>
<span class="t" style="left:967.61px;top:609.84px;font-size:27.3px;font-weight:normal;color:#6aa6e8;transform:scaleX(0.9750);">30</span>
<span class="t" style="left:967.40px;top:698.84px;font-size:27.3px;font-weight:normal;color:#6aa6e8;transform:scaleX(0.9750);">15</span>
<span class="t" style="left:975.01px;top:785.69px;font-size:27.3px;font-weight:normal;color:#6aa6e8;transform:scaleX(0.9750);">0</span>
<span class="t" style="left:133.95px;top:945.32px;font-size:42.5px;font-weight:bold;color:#525f6e;transform:scaleX(1.0175);">243.69ft</span>
<span class="t" style="left:499.94px;top:938.92px;font-size:42.5px;font-weight:bold;color:#525f6e;transform:scaleX(0.9955);">5.29s</span>
<span class="t" style="left:819.22px;top:944.02px;font-size:42.5px;font-weight:bold;color:#525f6e;transform:scaleX(0.9666);">-4.42%</span>
<span class="t" style="left:157.25px;top:1009.02px;font-size:22.3px;font-weight:normal;color:#a3a3a3;transform:scaleX(1.0035);">Distance(ft)</span>
<span class="t" style="left:505.71px;top:1005.02px;font-size:22.3px;font-weight:normal;color:#a3a3a3;transform:scaleX(0.9896);">0-60 mph</span>
<span class="t" style="left:857.03px;top:1007.72px;font-size:22.3px;font-weight:normal;color:#a3a3a3;transform:scaleX(0.9597);">Slope</span>
<span class="t" style="left:108.81px;top:1123.48px;font-size:30.5px;font-weight:normal;color:#9a9a9a;transform:scaleX(0.9287);">0-10</span>
<span class="t" style="left:429.57px;top:1123.48px;font-size:30.5px;font-weight:normal;color:#9a9a9a;transform:scaleX(0.9724);">0.82s</span>
<span class="t" style="left:108.81px;top:1212.48px;font-size:30.5px;font-weight:normal;color:#9a9a9a;transform:scaleX(0.9354);">0-20</span>
<span class="t" style="left:428.62px;top:1212.48px;font-size:30.5px;font-weight:normal;color:#9a9a9a;transform:scaleX(0.9853);">1.71s</span>
<span class="t" style="left:108.81px;top:1301.48px;font-size:30.5px;font-weight:normal;color:#9a9a9a;transform:scaleX(0.9354);">0-30</span>
<span class="t" style="left:429.10px;top:1301.48px;font-size:30.5px;font-weight:normal;color:#9a9a9a;transform:scaleX(0.9788);">2.52s</span>
<span class="t" style="left:108.75px;top:1389.48px;font-size:30.5px;font-weight:normal;color:#9a9a9a;transform:scaleX(0.9979);">0-60(1ft)</span>
<span class="t" style="left:429.57px;top:1390.48px;font-size:30.5px;font-weight:normal;color:#9a9a9a;transform:scaleX(0.9724);">5.02s</span>
<span class="t" style="left:568.79px;top:1123.48px;font-size:30.5px;font-weight:normal;color:#9a9a9a;transform:scaleX(0.9523);">0-40</span>
<span class="t" style="left:890.37px;top:1123.48px;font-size:30.5px;font-weight:normal;color:#9a9a9a;transform:scaleX(0.9724);">3.29s</span>
<span class="t" style="left:568.81px;top:1212.48px;font-size:30.5px;font-weight:normal;color:#9a9a9a;transform:scaleX(0.9354);">0-50</span>
<span class="t" style="left:890.84px;top:1212.48px;font-size:30.5px;font-weight:normal;color:#9a9a9a;transform:scaleX(0.9661);">4.07s</span>
<span class="t" style="left:568.81px;top:1301.48px;font-size:30.5px;font-weight:normal;color:#9a9a9a;transform:scaleX(0.9354);">0-60</span>
<span class="t" style="left:890.37px;top:1301.48px;font-size:30.5px;font-weight:normal;color:#9a9a9a;transform:scaleX(0.9724);">5.29s</span>
</body></html>
